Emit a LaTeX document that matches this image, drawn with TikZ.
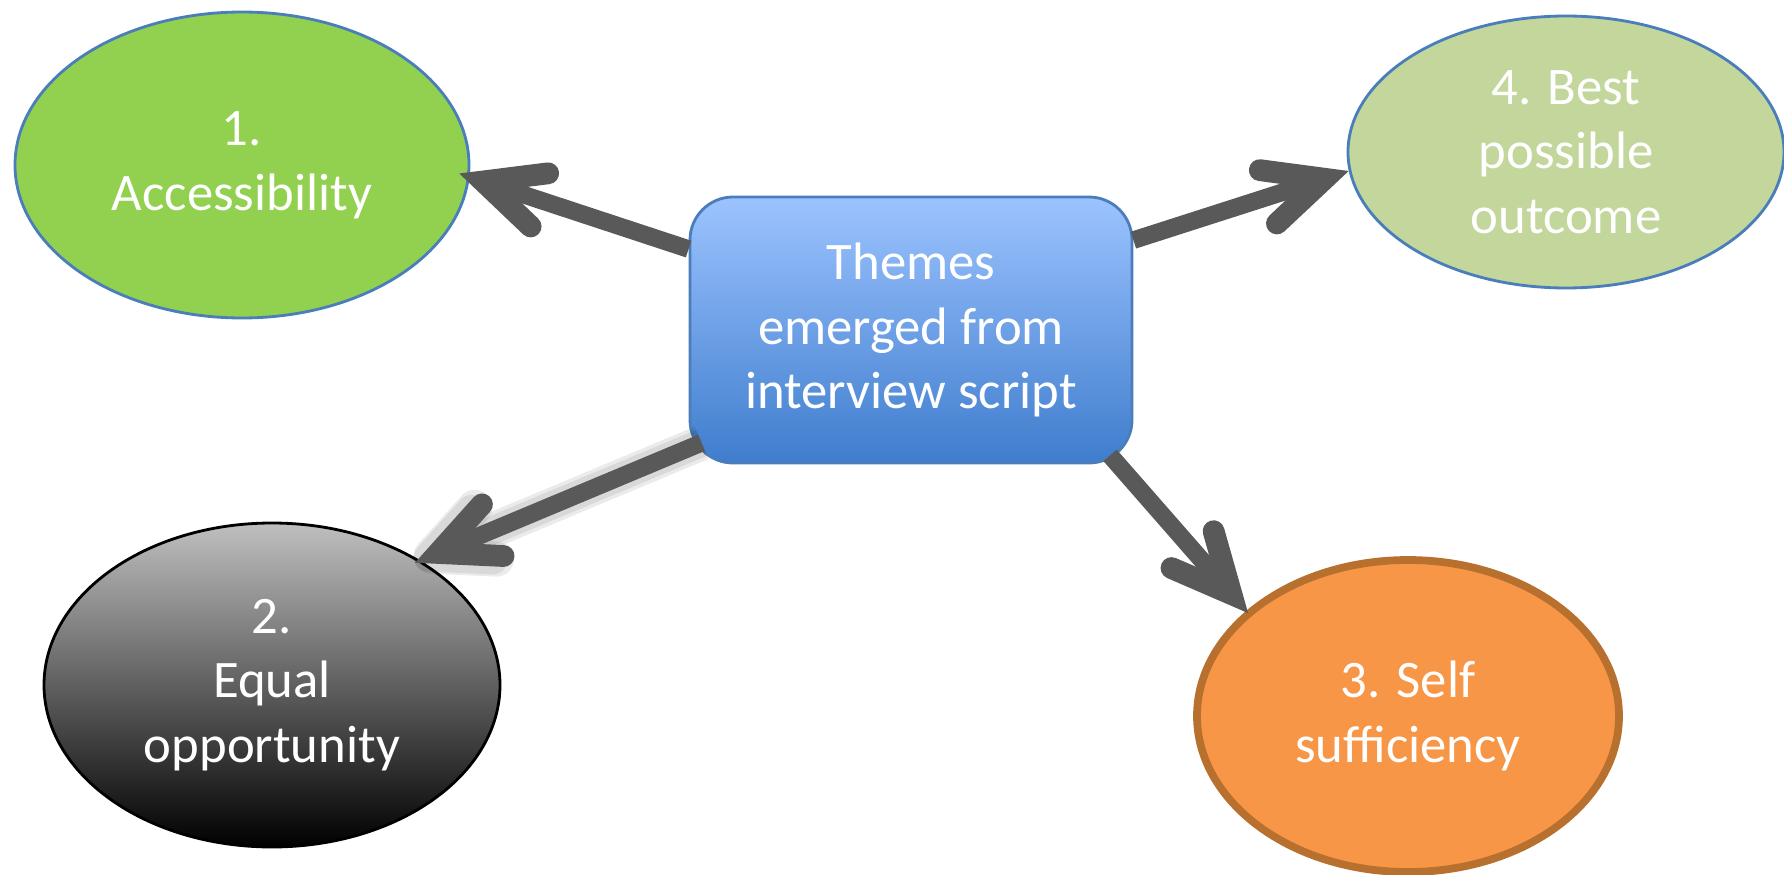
\documentclass[tikz,border=0pt]{standalone}
\usepackage{fontspec}
\setmainfont{Carlito}
\usetikzlibrary{shapes.geometric,arrows.meta}

\definecolor{boxtop}{HTML}{9CC3FF}
\definecolor{boxbottom}{HTML}{3F7DCD}
\definecolor{boxline}{HTML}{4A7EBB}
\definecolor{accgreen}{HTML}{92D050}
\definecolor{bestgreen}{HTML}{C3D69B}
\definecolor{selforange}{HTML}{F79646}
\definecolor{selfline}{HTML}{B8702F}
\definecolor{arrowgray}{HTML}{595959}

\newcommand{\themefont}{\fontsize{15}{18.4}\selectfont}

\begin{document}
\begin{tikzpicture}[
    theme/.style={ellipse, draw=boxline, line width=0.8pt, text=white, align=center, inner sep=0pt, font=\themefont},
    link/.style={draw=arrowgray, line width=5pt, -{Straight Barb[length=5.9mm, width=5.6mm, line width=6.2pt 0, line join=miter, line cap=round]}},
    glow/.style={link, draw=black, draw opacity=0.08, line width=#1, -{Straight Barb[length=5.9mm, width=5.6mm, line width=#1 0, line join=round, line cap=round]}}
]
    \useasboundingbox (0,0) rectangle (17.84,8.74);

    % Centre
    \node[rounded corners=0.43cm, draw=boxline, line width=0.8pt, top color=boxtop, bottom color=boxbottom,
          minimum width=4.42cm, minimum height=2.66cm, text=white, align=center, font=\themefont]
          (themes) at (9.11,5.44) {Themes\\emerged from\\interview script};

    % 1. Accessibility
    \node[theme, fill=accgreen, minimum width=4.54cm, minimum height=3.06cm] (access) at (2.42,7.09) {1.\\Accessibility};

    % 2. Equal opportunity
    \node[theme, draw=black, top color=black!25, bottom color=black, minimum width=4.56cm, minimum height=3.24cm]
          (equal) at (2.72,1.89) {2.\\Equal\\opportunity};

    % 3. Self sufficiency
    \node[theme, draw=selfline, line width=2.2pt, fill=selforange, minimum width=4.22cm, minimum height=3.12cm]
          (self) at (14.08,1.58) {3. Self\\sufficiency};

    % 4. Best possible outcome
    \node[theme, fill=bestgreen, minimum width=4.36cm, minimum height=2.72cm] (best) at (15.66,7.22) {4. Best\\possible\\outcome};

    % Arrows
    \draw[link, shorten >=-0.11cm] (themes.160) -- (access.-3);
    \draw[link] (themes.22) -- (best.185);
    \draw[glow=10pt, shorten <=-0.14cm, shorten >=-0.06cm] (themes.208) -- (equal.40);
    \draw[glow=8pt, shorten <=-0.14cm, shorten >=-0.06cm] (themes.208) -- (equal.40);
    \draw[link, shorten <=-0.14cm, shorten >=-0.06cm] (themes.208) -- (equal.40);
    \draw[link, shorten <=-0.12cm, shorten >=-0.03cm] (themes.-33) -- (self.147);
\end{tikzpicture}
\end{document}
